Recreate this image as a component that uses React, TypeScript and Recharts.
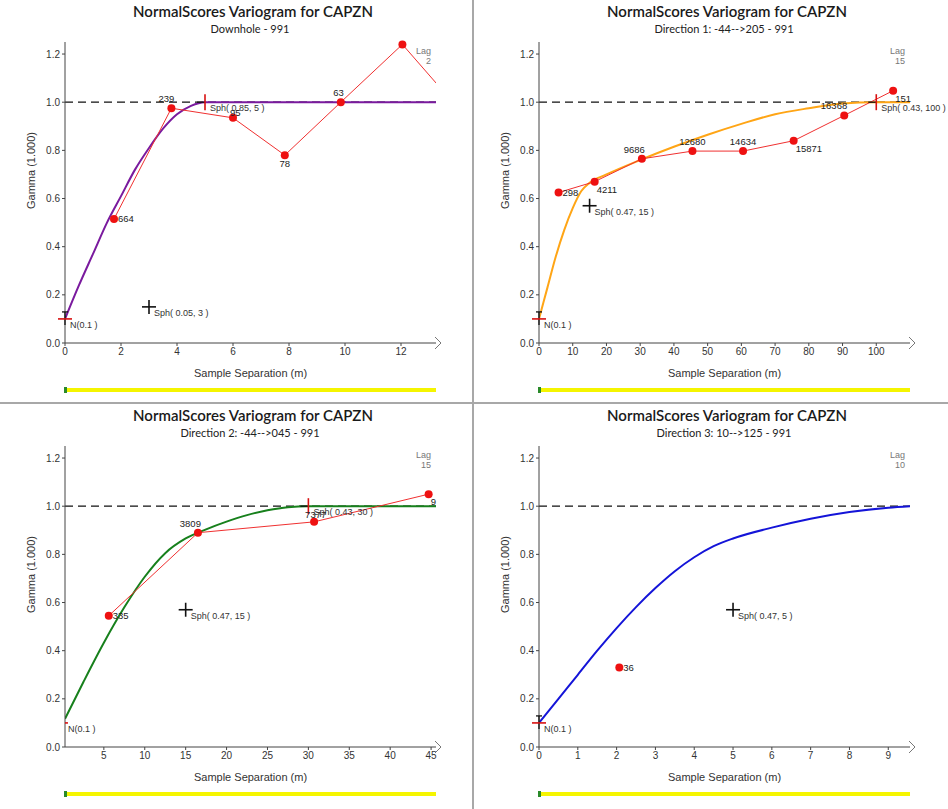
import React from 'react';
import {
  ComposedChart,
  Line,
  XAxis,
  YAxis,
  ReferenceLine,
  ReferenceDot,
  LabelList,
} from 'recharts';

// ---- text ----
const TITLE = 'NormalScores  Variogram for CAPZN';
const SUBTITLES = [
  'Downhole - 991',
  'Direction 1: -44-->205 - 991',
  'Direction 2: -44-->045 - 991',
  'Direction 3: 10-->125 - 991',
];
const LAGS = ['2', '15', '15', '10'];
const X_LABEL = 'Sample Separation (m)';
const Y_LABEL = 'Gamma (1.000)';

// ---- axes ----
const X_MIN = [0, 0, 0.25, 0];
const X_MAX = [13.25, 110, 45.6, 9.56];
const X_TICKS = [
  [0, 2, 4, 6, 8, 10, 12],
  [0, 10, 20, 30, 40, 50, 60, 70, 80, 90, 100],
  [5, 10, 15, 20, 25, 30, 35, 40, 45],
  [0, 1, 2, 3, 4, 5, 6, 7, 8, 9],
];
const Y_TICKS = [0, 0.2, 0.4, 0.6, 0.8, 1.0, 1.2];
const SILL = 1.0;

// ---- experimental points (lag, gamma, pairs) ----
const dhLag = [1.75, 3.8, 6.0, 7.85, 9.85, 12.05, 14.0];
const dhGamma = [0.515, 0.975, 0.935, 0.78, 1.0, 1.24, 0.98];
const dhPairs = ['664', '239', '95', '78', '63', '', ''];

const d1Lag = [5.8, 16.5, 30.5, 45.5, 60.5, 75.5, 90.5, 105];
const d1Gamma = [0.625, 0.67, 0.765, 0.797, 0.797, 0.84, 0.945, 1.048];
const d1Pairs = ['298', '4211', '9686', '12680', '14634', '15871', '16368', '151'];

const d2Lag = [5.6, 16.5, 30.7, 44.7];
const d2Gamma = [0.545, 0.89, 0.935, 1.05];
const d2Pairs = ['335', '3809', '7377', '9'];

const d3Lag = [2.07];
const d3Gamma = [0.33];
const d3Pairs = ['36'];

// ---- fitted model curves ----
const dhModelX = [0, 0.5, 1, 1.5, 2, 2.5, 3, 3.5, 4, 4.5, 5, 13.25];
const dhModelY = [0.1, 0.24, 0.37, 0.5, 0.61, 0.72, 0.81, 0.89, 0.95, 0.985, 1.0, 1.0];

const d1ModelX = [0, 2.5, 5, 7.5, 10, 12.5, 15, 20, 30, 40, 50, 60, 70, 80, 90, 100, 110];
const d1ModelY = [0.1, 0.23, 0.36, 0.47, 0.56, 0.63, 0.665, 0.7, 0.76, 0.815, 0.865, 0.91, 0.95, 0.975, 0.995, 1.0, 1.0];

const d2ModelX = [0.25, 2.5, 5, 7.5, 10, 12.5, 15, 17.5, 20, 22.5, 25, 27.5, 30, 45.6];
const d2ModelY = [0.117, 0.27, 0.433, 0.58, 0.707, 0.805, 0.866, 0.904, 0.936, 0.963, 0.983, 0.996, 1.0, 1.0];

const d3ModelX = [0, 0.5, 1, 1.5, 2, 2.5, 3, 3.5, 4, 4.5, 5, 6, 7, 8, 9, 9.56];
const d3ModelY = [0.1, 0.2, 0.3, 0.4, 0.494, 0.581, 0.66, 0.73, 0.788, 0.834, 0.866, 0.911, 0.948, 0.976, 0.994, 1.0];

// ---- model structure handles ----
const dhStructX = [0, 3, 5];
const dhStructY = [0.1, 0.15, 1.0];
const dhStructText = ['N(0.1 )', 'Sph( 0.05, 3 )', 'Sph( 0.85, 5 )'];

const d1StructX = [0, 15, 100];
const d1StructY = [0.1, 0.57, 1.0];
const d1StructText = ['N(0.1 )', 'Sph( 0.47, 15 )', 'Sph( 0.43, 100 )'];

const d2StructX = [0, 15, 30];
const d2StructY = [0.1, 0.57, 1.0];
const d2StructText = ['N(0.1 )', 'Sph( 0.47, 15 )', 'Sph( 0.43, 30 )'];

const d3StructX = [0, 5];
const d3StructY = [0.1, 0.57];
const d3StructText = ['N(0.1 )', 'Sph( 0.47, 5 )'];

// styling only
const STRUCT_KIND = [
  ['nugget', 'sph', 'range'],
  ['nugget', 'sph', 'range'],
  ['edge', 'sph', 'range'],
  ['nugget', 'sph'],
];
const MODEL_COLORS = ['#7a1a9e', '#ffa515', '#17801c', '#1414d8'];
const LABEL_PLACES = [
  ['r', 'tl', 'ov', 'b', 'tl', 'none', 'none'],
  ['r', 'rb', 'tl', 't', 't', 'rb', 'tl', 'rb'],
  ['r', 'tl', 'tl2', 'rb'],
  ['r'],
];

const TICK_FONT = '"Liberation Sans", Arial, sans-serif';
const TITLE_FONT = 'Lato, "Liberation Sans", sans-serif';

const pts = (xs: number[], ys: number[], ns?: string[]) =>
  xs.map((x, i) => ({ x, y: ys[i], n: ns ? ns[i] : '' }));

const panels = [
  { exp: pts(dhLag, dhGamma, dhPairs), model: pts(dhModelX, dhModelY), sx: dhStructX, sy: dhStructY, st: dhStructText },
  { exp: pts(d1Lag, d1Gamma, d1Pairs), model: pts(d1ModelX, d1ModelY), sx: d1StructX, sy: d1StructY, st: d1StructText },
  { exp: pts(d2Lag, d2Gamma, d2Pairs), model: pts(d2ModelX, d2ModelY), sx: d2StructX, sy: d2StructY, st: d2StructText },
  { exp: pts(d3Lag, d3Gamma, d3Pairs), model: pts(d3ModelX, d3ModelY), sx: d3StructX, sy: d3StructY, st: d3StructText },
];

const W = 474;
const H = 404;

const countLabel = (places: string[]) => (p: any) => {
  const { x, y, value, index } = p;
  const place = places[index] || 'r';
  if (place === 'none' || !value) return null;
  let dx = 4, dy = 3, anchor: 'start' | 'middle' | 'end' = 'start';
  if (place === 'rb') { dx = 2; dy = 11; }
  if (place === 't') { dx = 0; dy = -6; anchor = 'middle'; }
  if (place === 'tl') { dx = 3; dy = -6; anchor = 'end'; }
  if (place === 'tl2') { dx = -9; dy = -4; }
  if (place === 'b') { dx = 0; dy = 12; anchor = 'middle'; }
  if (place === 'ov') { dx = -3; dy = -2; }
  return (
    <text x={x + dx} y={y + dy} textAnchor={anchor} fontSize={9.5} fill="#222" fontFamily={TICK_FONT}>
      {value}
    </text>
  );
};

const structShape = (kind: string, text: string) => (p: any) => {
  const { cx, cy } = p;
  const k = '#111';
  return (
    <g>
      {kind === 'nugget' && (
        <g>
          <line x1={cx} y1={cy - 7} x2={cx} y2={cy + 6} stroke={k} strokeWidth={1.3} />
          <line x1={cx - 3} y1={cy - 7} x2={cx + 3} y2={cy - 7} stroke={k} strokeWidth={1.3} />
          <line x1={cx - 7} y1={cy} x2={cx + 7} y2={cy} stroke="#d81010" strokeWidth={1.6} />
        </g>
      )}
      {kind === 'edge' && (
        <line x1={cx + 2} y1={cy} x2={cx + 5} y2={cy} stroke="#d81010" strokeWidth={1.6} />
      )}
      {kind === 'sph' && (
        <g>
          <line x1={cx - 7} y1={cy} x2={cx + 7} y2={cy} stroke={k} strokeWidth={1.6} />
          <line x1={cx} y1={cy - 7} x2={cx} y2={cy + 7} stroke={k} strokeWidth={1.6} />
        </g>
      )}
      {kind === 'range' && (
        <g>
          <line x1={cx - 8} y1={cy} x2={cx} y2={cy} stroke={k} strokeWidth={1.3} />
          <line x1={cx} y1={cy - 8} x2={cx} y2={cy + 8} stroke="#d81010" strokeWidth={1.6} />
        </g>
      )}
      <text x={cx + 5} y={cy + 9} fontSize={9} fill="#333" fontFamily={TICK_FONT}>
        {text}
      </text>
    </g>
  );
};

const arrowShape = (p: any) => {
  const { cx, cy } = p;
  return (
    <path d={`M${cx - 1},${cy - 6} L${cx + 5},${cy} L${cx - 1},${cy + 6}`} fill="none" stroke="#777" strokeWidth={1} />
  );
};

const yAxisLabel = (p: any) => {
  const vb = p.viewBox;
  const cx = vb.x + 32;
  const cy = vb.y + vb.height / 2 - 22;
  return (
    <text x={cx} y={cy} transform={`rotate(-90 ${cx} ${cy})`} textAnchor="middle" dominantBaseline="middle" fontSize={11} fill="#333" fontFamily={TICK_FONT}>
      {Y_LABEL}
    </text>
  );
};

const xAxisLabel = (p: any) => {
  const vb = p.viewBox;
  return (
    <text x={vb.x + vb.width / 2} y={vb.y + 34} textAnchor="middle" fontSize={11} fill="#333" fontFamily={TICK_FONT}>
      {X_LABEL}
    </text>
  );
};

function Panel({ i }: { i: number }) {
  const p = panels[i];
  const color = MODEL_COLORS[i];
  return (
    <div style={{ position: 'relative', width: W, height: H, background: '#fff' }}>
      <div style={{ position: 'absolute', top: 2, left: 0, width: 506, textAlign: 'center', fontFamily: TITLE_FONT, fontSize: 15, fontWeight: 600, color: '#1a1a1a' }}>
        {TITLE}
      </div>
      <div style={{ position: 'absolute', top: 22, left: 0, width: 500, textAlign: 'center', fontFamily: TITLE_FONT, fontSize: 11, color: '#222' }}>
        {SUBTITLES[i]}
      </div>
      <div style={{ position: 'absolute', top: 46, left: 400, width: 31, textAlign: 'right', fontFamily: TICK_FONT, fontSize: 9, lineHeight: '10px', color: '#777' }}>
        Lag<br />
        {LAGS[i]}
      </div>
      <ComposedChart width={W} height={H} margin={{ top: 42, right: 38, bottom: 0, left: 0 }}>
        <XAxis
          type="number"
          dataKey="x"
          domain={[X_MIN[i], X_MAX[i]]}
          allowDataOverflow
          ticks={X_TICKS[i]}
          interval={0}
          height={61}
          tickSize={3}
          stroke="#444"
          tick={{ fontSize: 10, fill: '#333', fontFamily: TICK_FONT }}
          label={xAxisLabel}
        />
        <YAxis
          type="number"
          dataKey="y"
          domain={[0, 1.25]}
          ticks={Y_TICKS}
          interval={0}
          width={65}
          tickSize={3}
          tickMargin={2}
          stroke="#444"
          tickFormatter={(v: number) => v.toFixed(1)}
          tick={{ fontSize: 10, fill: '#333', fontFamily: TICK_FONT }}
          label={yAxisLabel}
        />
        <ReferenceLine y={SILL} stroke="#111" strokeWidth={1.2} strokeDasharray="8 5" />
        <Line
          data={p.model}
          dataKey="y"
          type="monotone"
          stroke={color}
          strokeWidth={2}
          dot={false}
          activeDot={false}
          isAnimationActive={false}
        />
        <Line
          data={p.exp}
          dataKey="y"
          type="linear"
          stroke="#f03030"
          strokeWidth={1}
          dot={{ r: 4, fill: '#ee1111', stroke: '#ee1111', strokeWidth: 0 }}
          activeDot={false}
          isAnimationActive={false}
        >
          <LabelList dataKey="n" content={countLabel(LABEL_PLACES[i])} />
        </Line>
        {p.sx.map((sx, j) => (
          <ReferenceDot
            key={j}
            x={sx}
            y={p.sy[j]}
            r={1}
            ifOverflow="visible"
            shape={structShape(STRUCT_KIND[i][j], p.st[j])}
          />
        ))}
        <ReferenceDot x={X_MAX[i]} y={0} r={1} ifOverflow="visible" shape={arrowShape} />
      </ComposedChart>
      <div style={{ position: 'absolute', top: 388, left: 65, width: 371, height: 4, background: '#f5f500' }} />
      <div style={{ position: 'absolute', top: 387, left: 64, width: 3, height: 6, background: '#2a8a2a' }} />
    </div>
  );
}

export default function App() {
  return (
    <div style={{ position: 'fixed', top: 0, left: 0, width: 948, height: 809, background: '#fff', overflow: 'hidden' }}>
      <div style={{ position: 'absolute', top: 0, left: 0 }}><Panel i={0} /></div>
      <div style={{ position: 'absolute', top: 0, left: 474 }}><Panel i={1} /></div>
      <div style={{ position: 'absolute', top: 404, left: 0 }}><Panel i={2} /></div>
      <div style={{ position: 'absolute', top: 404, left: 474 }}><Panel i={3} /></div>
      <div style={{ position: 'absolute', top: 0, left: 472, width: 2, height: 809, background: '#a8a8a8' }} />
      <div style={{ position: 'absolute', top: 402, left: 0, width: 948, height: 2, background: '#a8a8a8' }} />
    </div>
  );
}
